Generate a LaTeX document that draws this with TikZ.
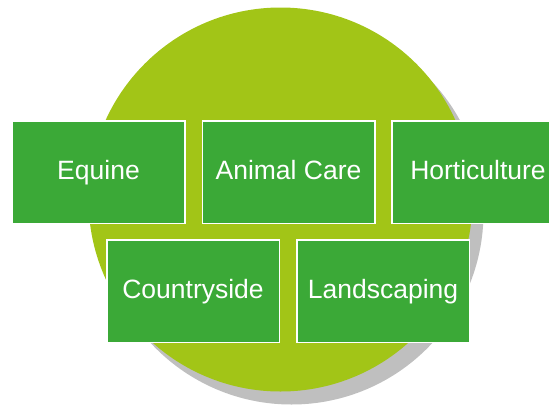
\documentclass[tikz,border=0pt]{standalone}
\usepackage{fontspec}
\setmainfont{Liberation Sans}
\definecolor{boxgreen}{RGB}{59,169,55}
\definecolor{ringgreen}{RGB}{162,197,23}
\definecolor{shadowgray}{RGB}{191,191,191}
\begin{document}
\begin{tikzpicture}[x=1pt,y=-1pt,
  box/.style={draw=white, line width=1.5pt, fill=boxgreen,
    minimum width=172.5pt, minimum height=102.5pt, inner sep=0pt,
    text height=19pt, text depth=5pt,
    text=white, font=\fontsize{26.5}{30}\selectfont}]
\useasboundingbox (0,0) rectangle (549,408);
\fill[shadowgray] (291.5,212.5) circle[radius=192];
\fill[ringgreen] (280.5,199.5) circle[radius=192];
\node[box] (equine) at (98.5,172) {Equine};
\node[box] (animal) at (288.5,172) {Animal Care};
\node[box] (hort) at (478,172) {Horticulture};
\node[box] (country) at (193,291) {Countryside};
\node[box] (land) at (383,291) {Landscaping};
\end{tikzpicture}
\end{document}
